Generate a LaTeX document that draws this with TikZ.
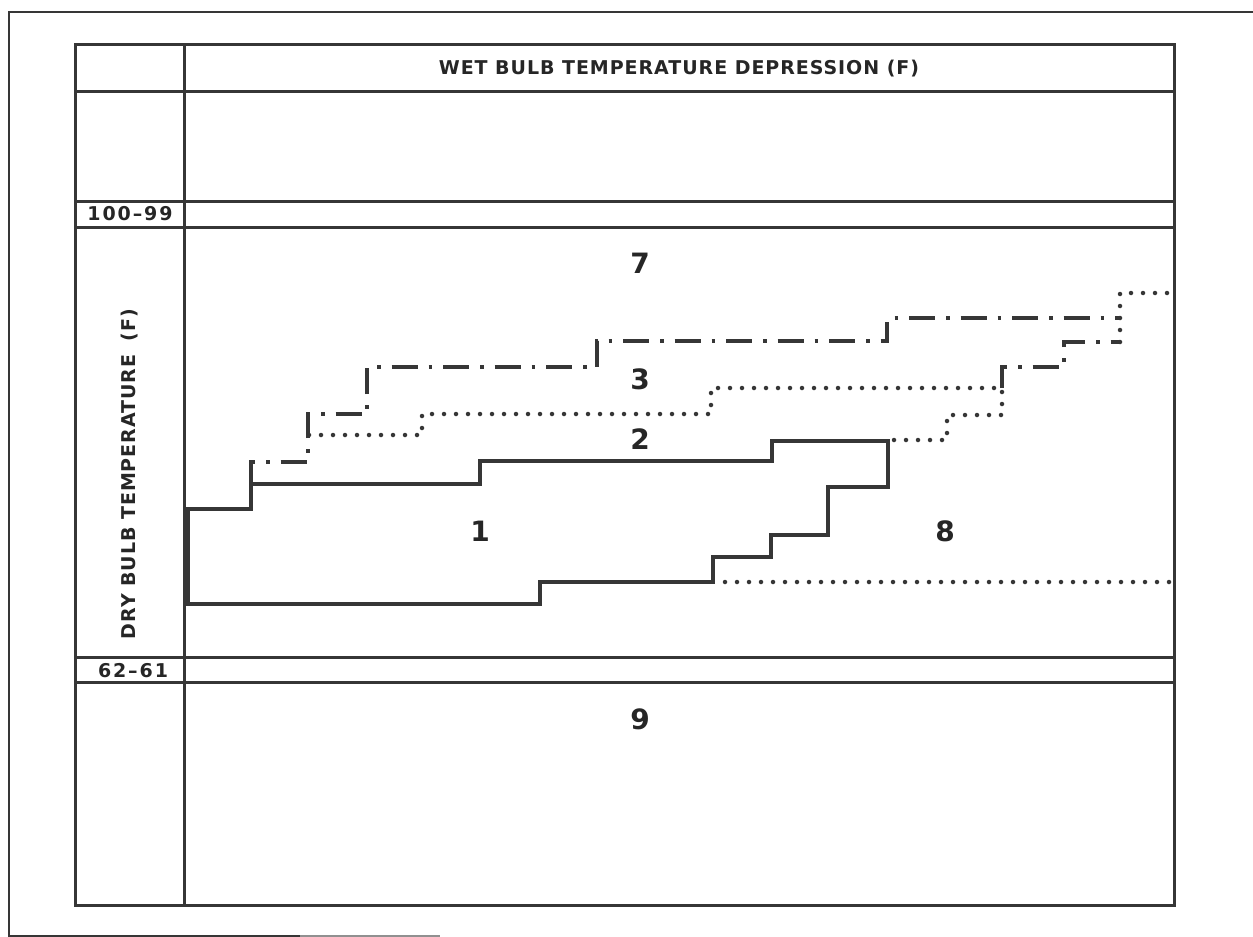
\documentclass[tikz,border=0pt]{standalone}
\usepackage{fontspec}
\setmainfont{DejaVu Sans}
\newfontfamily\plotfont[LetterSpace=5]{DejaVu Sans}
\newfontfamily\rowfont[LetterSpace=10]{DejaVu Sans}
\definecolor{linegray}{HTML}{363636}
\definecolor{inkgray}{HTML}{262626}
\begin{document}
\begin{tikzpicture}[x=1pt,y=-1pt,
  pageframe/.style={line width=2.5pt, draw=linegray},
  tableline/.style={line width=3pt, draw=linegray},
  solidstair/.style={line width=4pt, draw=linegray, line join=miter},
  dotstair/.style={line width=4.5pt, draw=linegray, line cap=round, dash pattern=on 0pt off 12pt},
  dashdotstair/.style={line width=4pt, draw=linegray, dash pattern=on 26pt off 11pt on 3.5pt off 11pt},
  headtext/.style={font=\plotfont\bfseries\fontsize{19}{19}\selectfont, text=inkgray, inner sep=0pt, anchor=base},
  rowtext/.style={font=\rowfont\bfseries\fontsize{19}{19}\selectfont, text=inkgray, inner sep=0pt, anchor=base},
  regiontext/.style={font=\bfseries\fontsize{28}{28}\selectfont, text=inkgray, inner sep=0pt, anchor=base}]
\useasboundingbox (0,0) rectangle (1253,937);
\fill[white] (0,0) rectangle (1253,937);
% page frame
\draw[pageframe] (1253,12) -- (9,12) -- (9,936) -- (300,936);
\draw[pageframe, draw=linegray!55] (300,936) -- (440,936);
% table
\draw[tableline] (75,44) rectangle (1174,905);
\draw[tableline] (184,44) -- (184,905);
\foreach \yy in {91,201,227,657,682}
  \draw[tableline] (75,\yy) -- (1174,\yy);
% staircase boundaries
\draw[solidstair] (188,509) -- (251,509) -- (251,484) -- (480,484) -- (480,461)
  -- (772,461) -- (772,441) -- (888,441) -- (888,487) -- (828,487) -- (828,535)
  -- (771,535) -- (771,557) -- (713,557) -- (713,582) -- (540,582) -- (540,604)
  -- (188,604) -- cycle;
\draw[dotstair] (309,435) -- (422,435) -- (422,414) -- (711,414) -- (711,388)
  -- (1002,388) -- (1002,415) -- (947,415) -- (947,440) -- (888,440);
\draw[dashdotstair] (251,484) -- (251,462) -- (308,462) -- (308,414) -- (367,414)
  -- (367,367) -- (597,367) -- (597,341) -- (887,341) -- (887,318) -- (1120,318);
\draw[dashdotstair] (1002,388) -- (1002,367) -- (1064,367) -- (1064,342) -- (1120,342);
\draw[dotstair] (1120,342) -- (1120,293) -- (1174,293);
\draw[dotstair] (725,582) -- (1174,582);
% texts
\node[headtext] (title) at (679,74) {WET BULB TEMPERATURE DEPRESSION (F)};
\node[headtext, rotate=90] (drybulb) at (135,474) {DRY BULB TEMPERATURE\hspace{6pt} (F)};
\node[rowtext] (r100) at (130,220) {100–99};
\node[rowtext] (r62) at (133,677) {62–61};
\node[regiontext] (z7) at (640,273) {7};
\node[regiontext] (z3) at (640,389) {3};
\node[regiontext] (z2) at (640,449) {2};
\node[regiontext] (z1) at (480,541) {1};
\node[regiontext] (z8) at (945,541) {8};
\node[regiontext] (z9) at (640,729) {9};
\end{tikzpicture}
\end{document}
